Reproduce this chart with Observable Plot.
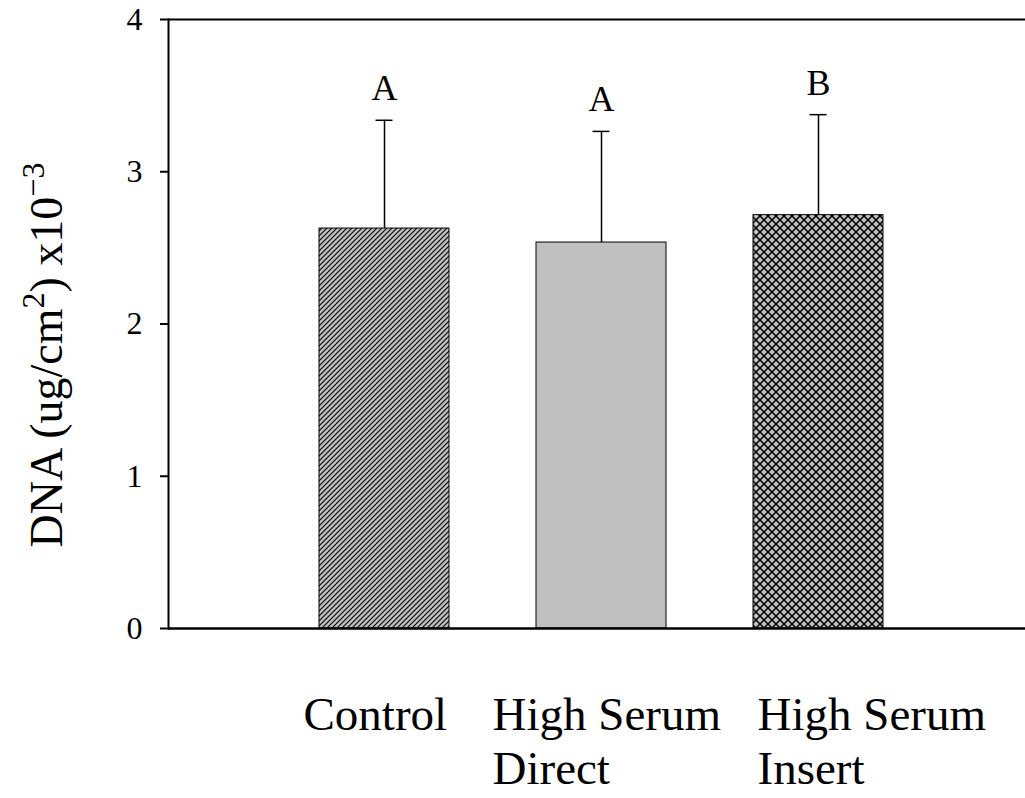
<!DOCTYPE html>
<html><head><meta charset="utf-8">
<script src="https://cdn.jsdelivr.net/npm/d3@7"></script>
<script src="https://cdn.jsdelivr.net/npm/@observablehq/plot@0.6"></script>
<style>body{margin:0;background:#fff}</style>
</head><body><div id="chart"></div>
<script>
const categories = ["Control", "High Serum Direct", "High Serum Insert"];
const tickLabels = ["Control", "High Serum\nDirect", "High Serum\nInsert"];
const means = [2.627, 2.535, 2.715];
const upper = [3.338, 3.265, 3.375];
const letters = ["A", "A", "B"];
const yTicks = [0, 1, 2, 3, 4];

const data = categories.map((c, i) => ({cat: c, mean: means[i], upper: upper[i], letter: letters[i], label: tickLabels[i]}));
const labelDx = [-81, -109, -61];
const serif = "'Liberation Serif', 'Times New Roman', serif";

const plot = Plot.plot({
  width: 1025, height: 798, marginLeft: 168, marginTop: 19, marginRight: 0, marginBottom: 170,
  style: {fontFamily: serif, background: "#fff", color: "#000"},
  x: {domain: categories, range: [168, 1034], paddingInner: 0.4, paddingOuter: 0.695, axis: null},
  y: {domain: [0, 4]},
  color: {domain: categories, range: ["url(#hatch)", "#c0c0c0", "url(#cross)"]},
  marks: [
    Plot.barY(data, {x: "cat", y: "mean", fill: "cat", stroke: "#000", strokeWidth: 1}),
    Plot.ruleX(data, {x: "cat", y1: "mean", y2: "upper", stroke: "#000", strokeWidth: 1.5}),
    Plot.tickY(data, {x: "cat", y: "upper", insetLeft: 56.5, insetRight: 56.5, stroke: "#000", strokeWidth: 1.5}),
    Plot.text(data, {x: "cat", y: "upper", text: "letter", dy: -20, lineAnchor: "bottom", fontSize: 36, fontFamily: serif, fill: "#000"}),
    Plot.ruleY([0], {stroke: "#000", strokeWidth: 2.5}),
    Plot.ruleY([4], {stroke: "#000", strokeWidth: 2}),
    Plot.frame({anchor: "left", stroke: "#000", strokeWidth: 2}),
    Plot.axisY({ticks: yTicks, tickSize: 8, tickPadding: 18, fontSize: 32, fontFamily: serif, label: null, strokeWidth: 2, tickFormat: d => String(d)}),
    ...data.map((d, i) => Plot.text([d], {x: "cat", text: "label", frameAnchor: "bottom", textAnchor: "start", lineAnchor: "top", dy: 63, dx: labelDx[i], fontSize: 47, fontFamily: serif, lineHeight: 1.15, fill: "#000"}))
  ]
});

const svg = d3.select(plot);
svg.selectAll("text").style("font-family", serif);
const defs = svg.insert("defs", ":first-child");
const h = defs.append("pattern").attr("id", "hatch").attr("patternUnits", "userSpaceOnUse").attr("width", 5).attr("height", 5);
h.append("rect").attr("width", 5).attr("height", 5).attr("fill", "#c0c0c0");
h.append("path").attr("d", "M-1,1 L1,-1 M0,5 L5,0 M4,6 L6,4").attr("stroke", "#000").attr("stroke-width", 1.1);
const c = defs.append("pattern").attr("id", "cross").attr("patternUnits", "userSpaceOnUse").attr("width", 8).attr("height", 8);
c.append("rect").attr("width", 8).attr("height", 8).attr("fill", "#c0c0c0");
c.append("path").attr("d", "M0,0 L8,8 M0,8 L8,0").attr("stroke", "#000").attr("stroke-width", 1.5);

const t = svg.append("text")
  .attr("transform", "translate(62,355) rotate(-90)")
  .attr("text-anchor", "middle")
  .attr("fill", "#000")
  .style("font-family", serif)
  .style("font-size", "46px");
t.append("tspan").text("DNA (ug/cm");
t.append("tspan").attr("dy", -18).style("font-size", "32px").text("2");
t.append("tspan").attr("dy", 18).text(") x10");
t.append("tspan").attr("dy", -18).style("font-size", "32px").text("\u22123");

document.getElementById("chart").appendChild(plot);
</script>
</body></html>
